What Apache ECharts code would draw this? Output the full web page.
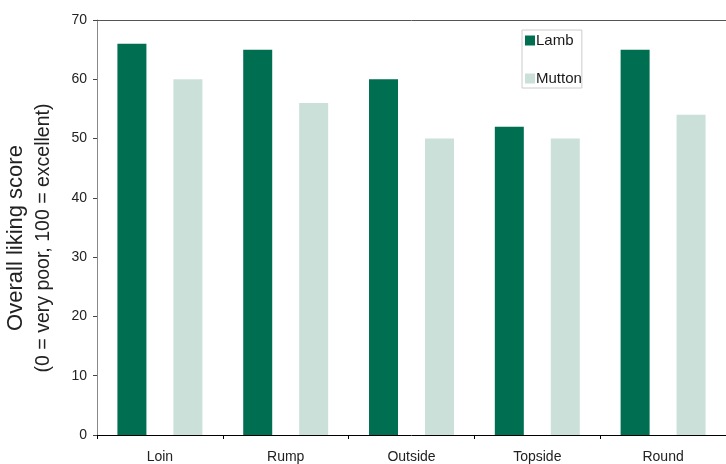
<!DOCTYPE html>
<html><head><meta charset="utf-8">
<script src="https://cdn.jsdelivr.net/npm/echarts@6/dist/echarts.min.js"></script>
<style>html,body{margin:0;padding:0;background:#fff}#c{width:726px;height:464px}</style>
</head><body><div id="c"></div>
<script>
const categories = ['Loin', 'Rump', 'Outside', 'Topside', 'Round'];
const lamb = [66, 65, 60, 52, 65];
const mutton = [60, 56, 50, 50, 54];
const yTicks = [0, 10, 20, 30, 40, 50, 60, 70];

const chart = echarts.init(document.getElementById('c'));
const font = 'Liberation Sans, Arial, Helvetica, sans-serif';
chart.setOption({
  animation: false,
  textStyle: { fontFamily: font },
  grid: { left: 97, right: 0, top: 20, bottom: 29, containLabel: false },
  legend: {
    orient: 'vertical', left: 522, top: 30,
    data: ['Lamb', 'Mutton'],
    itemWidth: 10, itemHeight: 10, itemGap: 23,
    icon: 'rect',
    borderColor: '#cccccc', borderWidth: 1, padding: [3, 0, 2, 3],
    textStyle: { fontSize: 15, color: '#1a1a1a', fontFamily: font, padding: [0, 0, 0, -4] }
  },
  xAxis: [{
    type: 'category', data: categories, boundaryGap: true,
    axisLine: { lineStyle: { color: '#000', width: 1 } },
    axisTick: { show: true, alignWithLabel: false, length: 4, inside: false, lineStyle: { color: '#000' } },
    axisLabel: { fontSize: 14, color: '#222', margin: 15, fontFamily: font },
    splitLine: { show: false }
  }, {
    type: 'category', data: categories, position: 'top',
    axisLine: { show: true, lineStyle: { color: '#555', width: 1 } },
    axisTick: { show: false }, axisLabel: { show: false }
  }],
  yAxis: {
    type: 'value', min: yTicks[0], max: yTicks[yTicks.length - 1], interval: 10,
    axisLine: { show: true, lineStyle: { color: '#888', width: 1 } },
    axisTick: { show: true, length: 4, lineStyle: { color: '#444' } },
    axisLabel: { fontSize: 14, color: '#222', margin: 10, fontFamily: font },
    splitLine: { show: false }
  },
  graphic: [
    { type: 'text', x: 16, y: 238, rotation: Math.PI / 2,
      style: { text: 'Overall liking score', font: '22px ' + font, fill: '#222', textAlign: 'center', textVerticalAlign: 'middle' } },
    { type: 'text', x: 43.5, y: 238, rotation: Math.PI / 2,
      style: { text: '(0 = very poor, 100 = excellent)', font: '19.5px ' + font, fill: '#222', textAlign: 'center', textVerticalAlign: 'middle' } }
  ],
  series: [
    { name: 'Lamb', type: 'bar', data: lamb, barWidth: 29, barGap: '93%',
      itemStyle: { color: '#006e51' } },
    { name: 'Mutton', type: 'bar', data: mutton, barWidth: 29,
      itemStyle: { color: '#cbe0d9' } }
  ]
});
</script></body></html>
